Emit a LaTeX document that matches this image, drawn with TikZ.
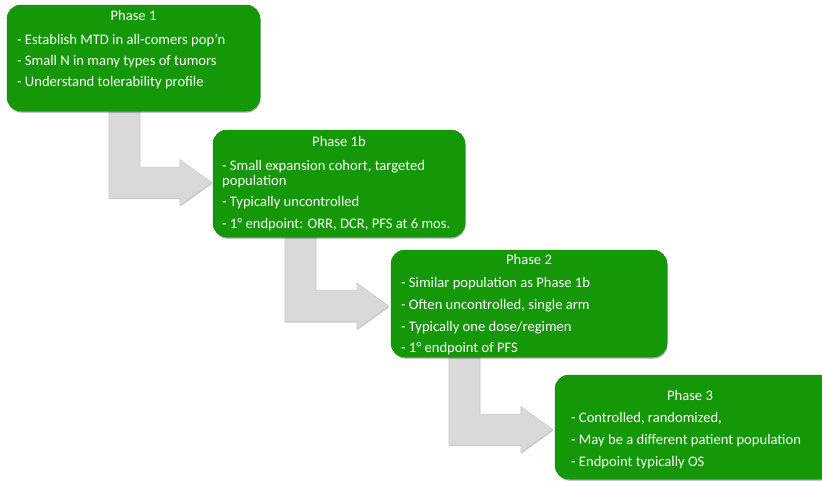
\documentclass[tikz,border=0pt]{standalone}
\usepackage{fontspec}
\setmainfont{Carlito}
\usetikzlibrary{calc,shadows,backgrounds}
\definecolor{phasegreen}{RGB}{20,152,8}
\definecolor{phaseedge}{RGB}{18,138,8}
\definecolor{arrowgray}{RGB}{217,217,217}
\definecolor{arrowedge}{RGB}{200,200,200}
\tikzset{
  phasebox/.style={draw=phaseedge, line width=0.5pt, fill=phasegreen, rounded corners=14pt,
    inner sep=0pt, drop shadow={shadow xshift=0.6pt, shadow yshift=-1.6pt, opacity=0.35, fill=black}},
  arrowbody/.style={draw=arrowedge, line width=0.5pt, fill=arrowgray,
    drop shadow={shadow xshift=0.5pt, shadow yshift=-1.2pt, opacity=0.2, fill=black}},
  ptext/.style={text=white, inner sep=0pt, font=\fontsize{14.6pt}{17pt}\selectfont,
    text height=9.5pt, text depth=2.5pt},
  ptitle/.style={ptext, anchor=center},
  pline/.style={ptext, anchor=west}
}
\newcommand\phasearrow[5]{%
  \path[arrowbody] let \p1=($(#1.south west)+(#2,0)$), \p2=($(#3.west)+(#4,#5)$) in
    (\x1,\y1+12pt) -- (\x1+31pt,\y1+12pt) -- (\x1+31pt,\y2+15.5pt) -- (\x2-32pt,\y2+15.5pt)
    -- (\x2-32pt,\y2+23pt) -- (\x2,\y2) -- (\x2-32pt,\y2-23pt) -- (\x2-32pt,\y2-15.5pt)
    -- (\x1,\y2-15.5pt) -- cycle;}
\begin{document}
\begin{tikzpicture}[x=1pt,y=-1pt]
\useasboundingbox (0,0) rectangle (822,480);
% boxes
\node[phasebox, minimum width=253pt, minimum height=106pt] (b1) at (133.5,58) {};
\node[phasebox, minimum width=252pt, minimum height=107pt] (b2) at (339,183.5) {};
\node[phasebox, minimum width=276pt, minimum height=107pt] (b3) at (529,303.5) {};
\node[phasebox, minimum width=280pt, minimum height=104pt] (b4) at (695,427) {};
% arrows
\begin{pgfonlayer}{background}
\phasearrow{b1}{102}{b2}{-1}{-1}
\phasearrow{b2}{72}{b3}{-2}{2.5}
\phasearrow{b3}{58}{b4}{-2}{2.5}
\end{pgfonlayer}
% Phase 1
\node[ptitle] (t1) at (133.5,17) {Phase 1};
\node[pline] (t1a) at (17,41) {- Establish MTD in all-comers pop’n};
\node[pline] (t1b) at (17,62) {- Small N in many types of tumors};
\node[pline] (t1c) at (17,83) {- Understand tolerability profile};
% Phase 1b
\node[ptitle] (t2) at (339,143) {Phase 1b};
\node[pline] (t2a) at (222,167) {- Small expansion cohort, targeted};
\node[pline] (t2b) at (222,182) {population};
\node[pline] (t2c) at (222,203) {- Typically uncontrolled};
\node[pline] (t2d) at (222,225) {- 1° endpoint: ORR, DCR, PFS at 6 mos.};
% Phase 2
\node[ptitle] (t3) at (529,261) {Phase 2};
\node[pline] (t3a) at (401,284) {- Similar population as Phase 1b};
\node[pline] (t3b) at (401,306) {- Often uncontrolled, single arm};
\node[pline] (t3c) at (401,328) {- Typically one dose/regimen};
\node[pline] (t3d) at (401,349) {- 1° endpoint of PFS};
% Phase 3
\node[ptitle] (t4) at (690,397) {Phase 3};
\node[pline] (t4a) at (571,419) {- Controlled, randomized,};
\node[pline] (t4b) at (571,441) {- May be a different patient population};
\node[pline] (t4c) at (571,463) {- Endpoint typically OS};
\end{tikzpicture}
\end{document}
